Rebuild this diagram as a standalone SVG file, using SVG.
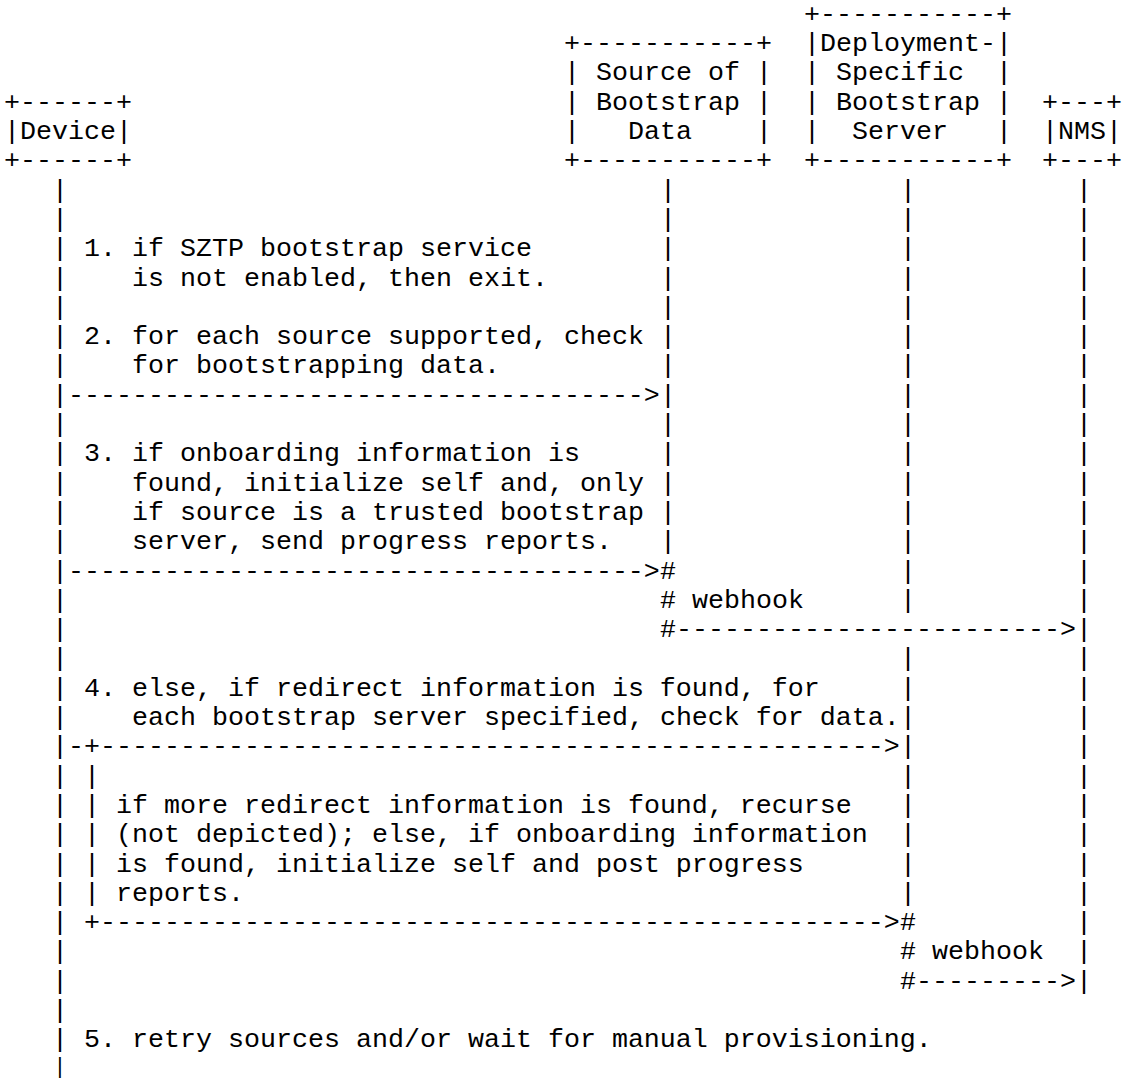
<svg xmlns="http://www.w3.org/2000/svg" width="1122" height="1079" viewBox="0 0 1122 1079">
<style>
text { font-family: "Liberation Mono", "DejaVu Sans Mono", monospace; font-size: 26.6667px; fill: #000; white-space: pre; }
text.end { font-size: 21.3px; }
</style>
<rect x="0" y="0" width="1122" height="1079" fill="#fff"/>
<g id="node-device">
<text x="4" y="109.7">+------+</text>
<text x="4" y="139">|Device|</text>
<text x="4" y="168.3">+------+</text>
</g>
<g id="node-source">
<text x="564" y="51.1">+-----------+</text>
<text x="564" y="80.4">| Source of |</text>
<text x="564" y="109.7">| Bootstrap |</text>
<text x="564" y="139">|   Data    |</text>
<text x="564" y="168.3">+-----------+</text>
</g>
<g id="node-deployment">
<text x="804" y="21.8">+-----------+</text>
<text x="804" y="51.1">|Deployment-|</text>
<text x="804" y="80.4">| Specific  |</text>
<text x="804" y="109.7">| Bootstrap |</text>
<text x="804" y="139">|  Server   |</text>
<text x="804" y="168.3">+-----------+</text>
</g>
<g id="node-nms">
<text x="1042" y="109.7">+---+</text>
<text x="1042" y="139">|NMS|</text>
<text x="1042" y="168.3">+---+</text>
</g>
<g id="connectors">
<text x="52 52 52 52 52 52 52 52 52 52 52 52 52 52 52 52 52 52 52 52 52 52 52 52 52 52 52 52 52 52" y="197.6 226.9 256.2 285.5 314.8 344.1 373.4 402.7 432 461.3 490.6 519.9 549.2 578.5 607.8 637.1 666.4 695.7 725 754.3 783.6 812.9 842.2 871.5 900.8 930.1 959.4 988.7 1018 1047.3">||||||||||||||||||||||||||||||</text>
<text class="end" x="53.6" y="1072.5">|</text>
<text x="660 660 660 660 660 660 660 660 660 660 660 660 660 660 660 660" y="197.6 226.9 256.2 285.5 314.8 344.1 373.4 402.7 432 461.3 490.6 519.9 549.2 578.5 607.8 637.1">|||||||||||||###</text>
<text x="900 900 900 900 900 900 900 900 900 900 900 900 900 900 900 900 900 900 900 900 900 900 900 900 900 900 900" y="197.6 226.9 256.2 285.5 314.8 344.1 373.4 402.7 432 461.3 490.6 519.9 549.2 578.5 607.8 666.4 695.7 725 754.3 783.6 812.9 842.2 871.5 900.8 930.1 959.4 988.7">||||||||||||||||||||||||###</text>
<text x="1076 1076 1076 1076 1076 1076 1076 1076 1076 1076 1076 1076 1076 1076 1076 1076 1076 1076 1076 1076 1076 1076 1076 1076 1076 1076 1076 1076" y="197.6 226.9 256.2 285.5 314.8 344.1 373.4 402.7 432 461.3 490.6 519.9 549.2 578.5 607.8 637.1 666.4 695.7 725 754.3 783.6 812.9 842.2 871.5 900.8 930.1 959.4 988.7">||||||||||||||||||||||||||||</text>
<text x="84 84 84 84 84 84 84" y="754.3 783.6 812.9 842.2 871.5 900.8 930.1">+|||||+</text>
<text x="68" y="402.7">------------------------------------&gt;</text>
<text x="68" y="578.5">------------------------------------&gt;</text>
<text x="676" y="637.1">------------------------&gt;</text>
<text x="692" y="607.8">webhook</text>
<text x="68" y="754.3">-</text>
<text x="100" y="754.3">-------------------------------------------------&gt;</text>
<text x="100" y="930.1">-------------------------------------------------&gt;</text>
<text x="916" y="988.7">---------&gt;</text>
<text x="932" y="959.4">webhook</text>
</g>
<g id="notes">
<text x="84" y="256.2">1. if SZTP bootstrap service</text>
<text x="132" y="285.5">is not enabled, then exit.</text>
<text x="84" y="344.1">2. for each source supported, check</text>
<text x="132" y="373.4">for bootstrapping data.</text>
<text x="84" y="461.3">3. if onboarding information is</text>
<text x="132" y="490.6">found, initialize self and, only</text>
<text x="132" y="519.9">if source is a trusted bootstrap</text>
<text x="132" y="549.2">server, send progress reports.</text>
<text x="84" y="695.7">4. else, if redirect information is found, for</text>
<text x="132" y="725">each bootstrap server specified, check for data.</text>
<text x="116" y="812.9">if more redirect information is found, recurse</text>
<text x="116" y="842.2">(not depicted); else, if onboarding information</text>
<text x="116" y="871.5">is found, initialize self and post progress</text>
<text x="116" y="900.8">reports.</text>
<text x="84" y="1047.3">5. retry sources and/or wait for manual provisioning.</text>
</g>
</svg>
